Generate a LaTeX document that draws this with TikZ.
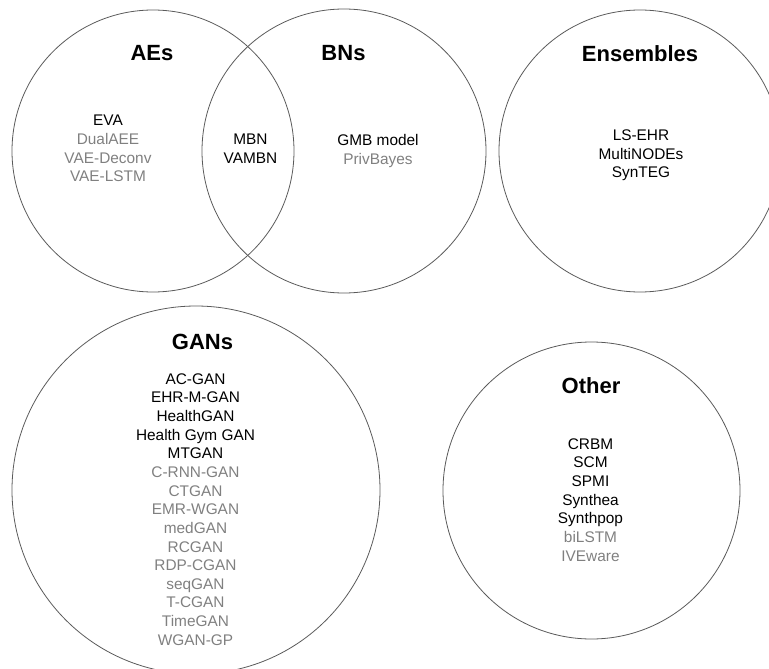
\documentclass[tikz,border=0pt]{standalone}
\usepackage{fontspec}
\setmainfont{Liberation Sans}
\definecolor{ringc}{HTML}{5A5A5A}
\definecolor{dimtext}{HTML}{808080}
\tikzset{
  ring/.style={draw=ringc, line width=0.8pt},
  ttl/.style={anchor=north, inner sep=0pt, font={\fontsize{22}{26}\selectfont\bfseries}},
  lst/.style={anchor=north, inner sep=0pt, align=center, font={\fontsize{15.4}{18.64}\selectfont}},
}
\newcommand{\dimtx}[1]{\textcolor{dimtext}{#1}}
\begin{document}
\begin{tikzpicture}[x=1pt, y=-1pt]
\useasboundingbox (0,0) rectangle (769,669);
\clip (0,0) rectangle (769,669);
% circles
\draw[ring] (153,151) circle[radius=141];
\draw[ring] (344,151) circle[radius=142];
\draw[ring] (640,151) circle[radius=141];
\draw[ring] (196,490) circle[radius=184];
\draw[ring] (591.5,490.5) circle[radius=148.5];
% titles
\node[ttl] (aes) at (152,45.5) {AEs};
\node[ttl] (bns) at (343.5,45.5) {BNs};
\node[ttl] (ens) at (640,45.5) {Ensembles};
\node[ttl] (gans) at (202.5,334.3) {GANs};
\node[ttl] (oth) at (591,377.3) {Other};
% lists
\node[lst] (aelist) at (108,115) {EVA\\\dimtx{DualAEE}\\\dimtx{VAE-Deconv}\\\dimtx{VAE-LSTM}};
\node[lst] (mbnlist) at (250.5,134) {MBN\\VAMBN};
\node[lst] (bnlist) at (378,134.5) {GMB model\\\dimtx{PrivBayes}};
\node[lst] (enslist) at (641,129.5) {LS-EHR\\MultiNODEs\\SynTEG};
\node[lst] (ganlist) at (195.5,373.3) {AC-GAN\\EHR-M-GAN\\HealthGAN\\Health Gym GAN\\MTGAN\\\dimtx{C-RNN-GAN}\\\dimtx{CTGAN}\\\dimtx{EMR-WGAN}\\\dimtx{medGAN}\\\dimtx{RCGAN}\\\dimtx{RDP-CGAN}\\\dimtx{seqGAN}\\\dimtx{T-CGAN}\\\dimtx{TimeGAN}\\\dimtx{WGAN-GP}};
\node[lst] (othlist) at (590.5,438.3) {CRBM\\SCM\\SPMI\\Synthea\\Synthpop\\\dimtx{biLSTM}\\\dimtx{IVEware}};
\end{tikzpicture}
\end{document}
